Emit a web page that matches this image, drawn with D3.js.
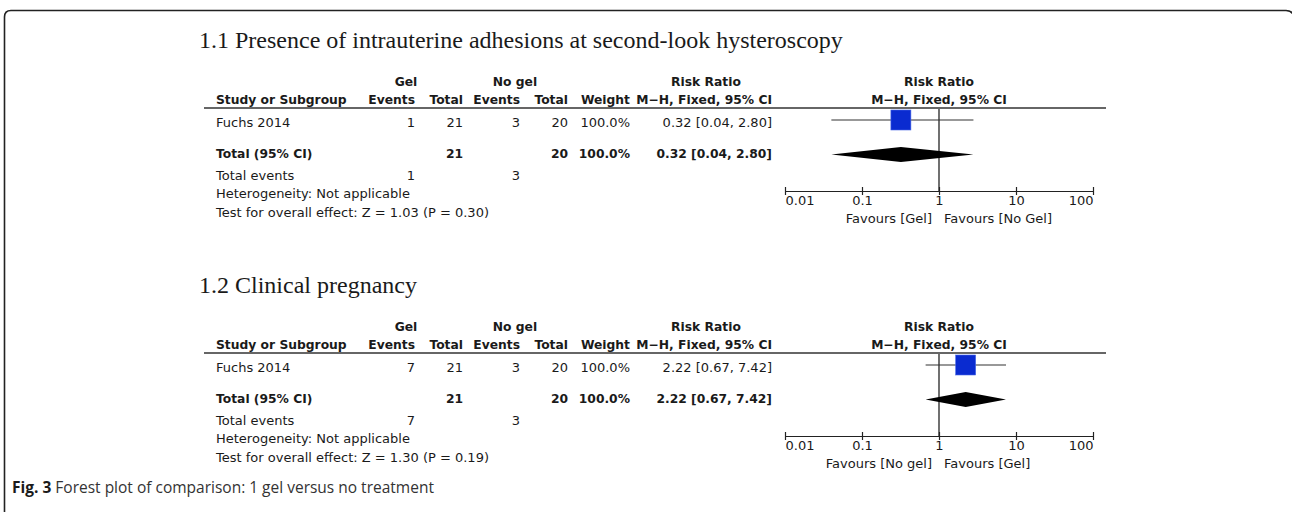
<!DOCTYPE html>
<html>
<head>
<meta charset="utf-8">
<script src="https://cdn.jsdelivr.net/npm/d3@7"></script>
<style>
  body { margin: 0; background: #fff; }
  svg text { fill: #1a1a1a; }
</style>
</head>
<body>
<div class="forest-container"></div>
<script>
// data
const panelTitles = ["1.1 Presence of intrauterine adhesions at second-look hysteroscopy", "1.2 Clinical pregnancy"];
const studyNames = ["Fuchs 2014", "Fuchs 2014"];
const gelEvents = [1, 7];
const gelTotals = [21, 21];
const noGelEvents = [3, 3];
const noGelTotals = [20, 20];
const weights = [100.0, 100.0];
const riskRatios = [0.32, 2.22];
const ciLower = [0.04, 0.67];
const ciUpper = [2.80, 7.42];
const zValues = ["1.03", "1.30"];
const pValues = ["0.30", "0.19"];
const favoursLeft = ["Favours [Gel]", "Favours [No gel]"];
const favoursRight = ["Favours [No Gel]", "Favours [Gel]"];
const axisTicks = [0.01, 0.1, 1, 10, 100];

const width = 1292;
const height = 512;
const panelOffset = 245; // vertical distance between the two panels
const tableFont = "'DejaVu Sans', Verdana, sans-serif";
const regularSize = "13px";
const boldSize = "12.3px";

const svg = d3.select(".forest-container")
    .append("svg")
    .attr("width", width)
    .attr("height", height);

// frame round the figure (right side runs off the picture)
svg.append("path")
    .attr("d", "M4.5,512 L4.5,17 Q4.5,10.5 11,10.5 L1286,10.5 Q1292,10.5 1294,16")
    .attr("fill", "none")
    .attr("stroke", "#222")
    .attr("stroke-width", 1.6);

// log scale for the forest plot
const x = d3.scaleLog()
    .domain([0.01, 100])
    .range([785, 1093]);

// column positions (right edges for numbers)
const cols = {
    study: 216,
    gelEvents: 415,
    gelTotal: 463,
    noGelEvents: 520,
    noGelTotal: 568,
    weight: 630,
    ci: 772
};

function fmt2(v) { return v.toFixed(2); }

panelTitles.forEach((title, i) => {
    const g = svg.append("g")
        .attr("transform", `translate(0, ${i * panelOffset})`);

    g.append("text")
        .attr("x", 199)
        .attr("y", 48)
        .style("font-family", "'Liberation Serif', 'Times New Roman', serif")
        .style("font-size", "24px")
        .text(title);

    // header text
    const head = (txt, xPos, yPos, anchor) => g.append("text")
        .attr("x", xPos)
        .attr("y", yPos)
        .attr("dy", "0.35em")
        .attr("text-anchor", anchor)
        .style("font-family", tableFont)
        .style("font-size", boldSize)
        .style("font-weight", "bold")
        .text(txt);

    head("Gel", 406, 82, "middle");
    head("No gel", 515, 82, "middle");
    head("Risk Ratio", 706, 82, "middle");
    head("Risk Ratio", x(1), 82, "middle");
    head("Study or Subgroup", cols.study, 100, "start");
    head("Events", cols.gelEvents, 100, "end");
    head("Total", cols.gelTotal, 100, "end");
    head("Events", cols.noGelEvents, 100, "end");
    head("Total", cols.noGelTotal, 100, "end");
    head("Weight", cols.weight, 100, "end");
    head("M\u2212H, Fixed, 95% CI", cols.ci, 100, "end");
    head("M\u2212H, Fixed, 95% CI", x(1), 100, "middle");

    g.append("line")
        .attr("x1", 204).attr("x2", 1106)
        .attr("y1", 108).attr("y2", 108)
        .attr("stroke", "#333")
        .attr("stroke-width", 1.6);

    const cell = (txt, xPos, yPos, anchor, bold) => g.append("text")
        .attr("x", xPos)
        .attr("y", yPos)
        .attr("dy", "0.35em")
        .attr("text-anchor", anchor)
        .style("font-family", tableFont)
        .style("font-size", bold ? boldSize : regularSize)
        .style("font-weight", bold ? "bold" : "normal")
        .text(txt);

    const ciText = `${fmt2(riskRatios[i])} [${fmt2(ciLower[i])}, ${fmt2(ciUpper[i])}]`;

    // study row
    cell(studyNames[i], cols.study, 122, "start");
    cell(gelEvents[i], cols.gelEvents, 122, "end");
    cell(gelTotals[i], cols.gelTotal, 122, "end");
    cell(noGelEvents[i], cols.noGelEvents, 122, "end");
    cell(noGelTotals[i], cols.noGelTotal, 122, "end");
    cell(weights[i].toFixed(1) + "%", cols.weight, 122, "end");
    cell(ciText, cols.ci, 122, "end");

    // total row
    cell("Total (95% CI)", cols.study, 154, "start", true);
    cell(gelTotals[i], cols.gelTotal, 154, "end", true);
    cell(noGelTotals[i], cols.noGelTotal, 154, "end", true);
    cell(weights[i].toFixed(1) + "%", cols.weight, 154, "end", true);
    cell(ciText, cols.ci, 154, "end", true);

    cell("Total events", cols.study, 175, "start");
    cell(gelEvents[i], cols.gelEvents, 175, "end");
    cell(noGelEvents[i], cols.noGelEvents, 175, "end");
    cell("Heterogeneity: Not applicable", cols.study, 193, "start");
    cell(`Test for overall effect: Z = ${zValues[i]} (P = ${pValues[i]})`, cols.study, 212, "start");

    // line of no effect
    g.append("line")
        .attr("x1", x(1)).attr("x2", x(1))
        .attr("y1", 109).attr("y2", 191)
        .attr("stroke", "#111")
        .attr("stroke-width", 1.2);

    // study CI and square
    g.append("line")
        .attr("x1", x(ciLower[i])).attr("x2", x(ciUpper[i]))
        .attr("y1", 120).attr("y2", 120)
        .attr("stroke", "#333")
        .attr("stroke-width", 1.1);

    const sq = 20 * Math.sqrt(weights[i] / 100);
    g.append("rect")
        .attr("x", x(riskRatios[i]) - sq / 2)
        .attr("y", 120 - sq / 2)
        .attr("width", sq)
        .attr("height", sq)
        .attr("fill", "#0a2bd0")
        .attr("stroke", "#4a6ae8")
        .attr("stroke-width", 0.6);

    // pooled diamond
    const dy = 154.5;
    g.append("path")
        .attr("d", `M${x(ciLower[i])},${dy} L${x(riskRatios[i])},${dy - 7.5} L${x(ciUpper[i])},${dy} L${x(riskRatios[i])},${dy + 7.5} Z`)
        .attr("fill", "#000");

    // axis
    const axis = d3.axisBottom(x)
        .tickValues(axisTicks)
        .tickSizeInner(4)
        .tickSizeOuter(0)
        .tickFormat(d => d3.format("~g")(d));

    const ax = g.append("g")
        .attr("transform", "translate(0, 191)")
        .call(axis);

    ax.select(".domain").attr("stroke", "#222").attr("stroke-width", 1.2);
    ax.selectAll(".tick line")
        .attr("y1", -4)
        .attr("y2", 4)
        .attr("stroke", "#222")
        .attr("stroke-width", 1.2);
    ax.selectAll(".tick text")
        .attr("y", 5)
        .attr("dy", "0.71em")
        .style("font-family", tableFont)
        .style("font-size", regularSize)
        .style("fill", "#1a1a1a")
        .attr("text-anchor", d => d === 0.01 ? "start" : d === 100 ? "end" : "middle");

    cell(favoursLeft[i], x(1) - 7, 218, "end");
    cell(favoursRight[i], x(1) + 5, 218, "start");
});

// caption
const caption = svg.append("text")
    .attr("x", 12)
    .attr("y", 493)
    .style("font-family", "'Open Sans', sans-serif")
    .style("font-size", "15.5px");
caption.append("tspan")
    .style("font-weight", "bold")
    .text("Fig. 3");
caption.append("tspan")
    .style("fill", "#333")
    .text(" Forest plot of comparison: 1 gel versus no treatment");
</script>
</body>
</html>
